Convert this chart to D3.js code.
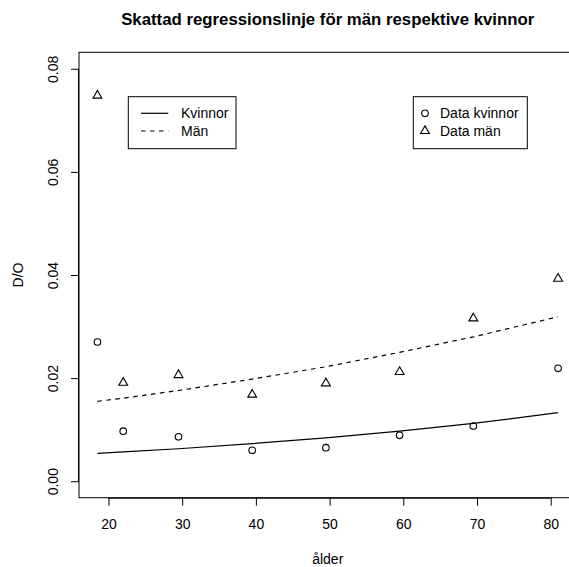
<!DOCTYPE html>
<html>
<head>
<meta charset="utf-8">
<script src="https://cdn.jsdelivr.net/npm/d3@7"></script>
<style>
  body { margin: 0; background: #fff; }
  text { font-family: "Liberation Sans", Arial, sans-serif; fill: #000; }
</style>
</head>
<body>
<div id="chart"></div>
<script>
var ages = [18.5, 22, 29.5, 39.5, 49.5, 59.5, 69.5, 81];
var dataKvinnor = [0.0270, 0.0097, 0.0086, 0.0060, 0.0065, 0.0089, 0.0107, 0.0219];
var dataMan = [0.0748, 0.0191, 0.0206, 0.0168, 0.0190, 0.0212, 0.0316, 0.0393];
// fitted regression lines at the same ages
var fitKvinnor = [0.0054, 0.0057, 0.0063, 0.0073, 0.0084, 0.0097, 0.0112, 0.0133];
var fitMan = [0.0155, 0.0161, 0.0176, 0.0198, 0.0222, 0.0250, 0.0280, 0.0319];

var xTicks = [20, 30, 40, 50, 60, 70, 80];
var yTicks = [0, 0.02, 0.04, 0.06, 0.08];

var svgWidth = 569;
var svgHeight = 567;

var plot = { left: 79, right: 576.5, top: 52.3, bottom: 497.7 };

var svg = d3.select("#chart")
  .append("svg")
  .attr("width", svgWidth)
  .attr("height", svgHeight);

var x = d3.scaleLinear().domain([16, 83.5]).range([plot.left, plot.right]);
var y = d3.scaleLinear().domain([-0.0032, 0.0832]).range([plot.bottom, plot.top]);

// box
svg.append("rect")
  .attr("x", plot.left)
  .attr("y", plot.top)
  .attr("width", plot.right - plot.left)
  .attr("height", plot.bottom - plot.top)
  .attr("fill", "none")
  .attr("stroke", "#000")
  .attr("stroke-width", 1);

// axes
var xAxis = d3.axisBottom(x).tickValues(xTicks).tickSize(8);
var gx = svg.append("g")
  .attr("transform", `translate(0, ${plot.bottom})`)
  .call(xAxis);
gx.select(".domain").attr("d", `M${x(20)},0.5H${x(80)}`);
gx.selectAll("text").attr("font-size", 14).attr("font-family", "Liberation Sans, Arial, sans-serif")
  .attr("dy", null).attr("y", 31.6);

var yAxis = d3.axisLeft(y).tickValues(yTicks).tickSize(8).tickFormat(d3.format(".2f"));
var gy = svg.append("g")
  .attr("transform", `translate(${plot.left}, 0)`)
  .call(yAxis);
gy.select(".domain").attr("d", `M-0.5,${y(0)}V${y(0.08)}`);
gy.selectAll("text")
  .attr("font-size", 14)
  .attr("font-family", "Liberation Sans, Arial, sans-serif")
  .attr("x", null).attr("dy", null)
  .attr("text-anchor", "middle")
  .attr("transform", "translate(-21, 0) rotate(-90)");

svg.selectAll(".tick line").attr("stroke", "#000");

// titles
svg.append("text")
  .attr("x", (plot.left + plot.right) / 2)
  .attr("y", 25)
  .attr("text-anchor", "middle")
  .attr("font-size", 16.8)
  .attr("font-weight", "bold")
  .text("Skattad regressionslinje för män respektive kvinnor");

svg.append("text")
  .attr("x", (plot.left + plot.right) / 2)
  .attr("y", 564)
  .attr("text-anchor", "middle")
  .attr("font-size", 14)
  .text("ålder");

svg.append("text")
  .attr("transform", `translate(23, ${(plot.top + plot.bottom) / 2}) rotate(-90)`)
  .attr("text-anchor", "middle")
  .attr("font-size", 14)
  .text("D/O");

// regression lines
var line = d3.line()
  .x((d, i) => x(ages[i]))
  .y(d => y(d));

svg.append("path")
  .attr("d", line(fitKvinnor))
  .attr("fill", "none")
  .attr("stroke", "#000")
  .attr("stroke-width", 1.2);

svg.append("path")
  .attr("d", line(fitMan))
  .attr("fill", "none")
  .attr("stroke", "#000")
  .attr("stroke-width", 1.2)
  .attr("stroke-dasharray", "4.5,4.5");

// points
var circleR = 3.3;
var triPath = "M0,-5.13L4.44,2.57L-4.44,2.57Z";

svg.append("g").selectAll("circle")
  .data(dataKvinnor)
  .enter()
  .append("circle")
  .attr("cx", (d, i) => x(ages[i]))
  .attr("cy", d => y(d))
  .attr("r", circleR)
  .attr("fill", "none")
  .attr("stroke", "#000")
  .attr("stroke-width", 1.1);

svg.append("g").selectAll("path")
  .data(dataMan)
  .enter()
  .append("path")
  .attr("d", triPath)
  .attr("transform", (d, i) => `translate(${x(ages[i])}, ${y(d)})`)
  .attr("fill", "none")
  .attr("stroke", "#000")
  .attr("stroke-width", 1.1);

// legend: lines
var leg1 = svg.append("g");
leg1.append("rect")
  .attr("x", 128.3).attr("y", 96.7)
  .attr("width", 107.7).attr("height", 52)
  .attr("fill", "none").attr("stroke", "#000");
leg1.append("line")
  .attr("x1", 141).attr("x2", 168.3).attr("y1", 113.3).attr("y2", 113.3)
  .attr("stroke", "#000").attr("stroke-width", 1.2);
leg1.append("line")
  .attr("x1", 141).attr("x2", 168.3).attr("y1", 131).attr("y2", 131)
  .attr("stroke", "#000").attr("stroke-width", 1.2)
  .attr("stroke-dasharray", "4.5,4.5");
leg1.append("text").attr("x", 181).attr("y", 118.3).attr("font-size", 14).text("Kvinnor");
leg1.append("text").attr("x", 181).attr("y", 136).attr("font-size", 14).text("Män");

// legend: points
var leg2 = svg.append("g");
leg2.append("rect")
  .attr("x", 413.3).attr("y", 96.7)
  .attr("width", 114).attr("height", 52)
  .attr("fill", "none").attr("stroke", "#000");
leg2.append("circle")
  .attr("cx", 425).attr("cy", 113.3).attr("r", circleR)
  .attr("fill", "none").attr("stroke", "#000").attr("stroke-width", 1.1);
leg2.append("path")
  .attr("d", triPath)
  .attr("transform", "translate(425, 131)")
  .attr("fill", "none").attr("stroke", "#000").attr("stroke-width", 1.1);
leg2.append("text").attr("x", 440).attr("y", 118.3).attr("font-size", 14).text("Data kvinnor");
leg2.append("text").attr("x", 440).attr("y", 136).attr("font-size", 14).text("Data män");
</script>
</body>
</html>
